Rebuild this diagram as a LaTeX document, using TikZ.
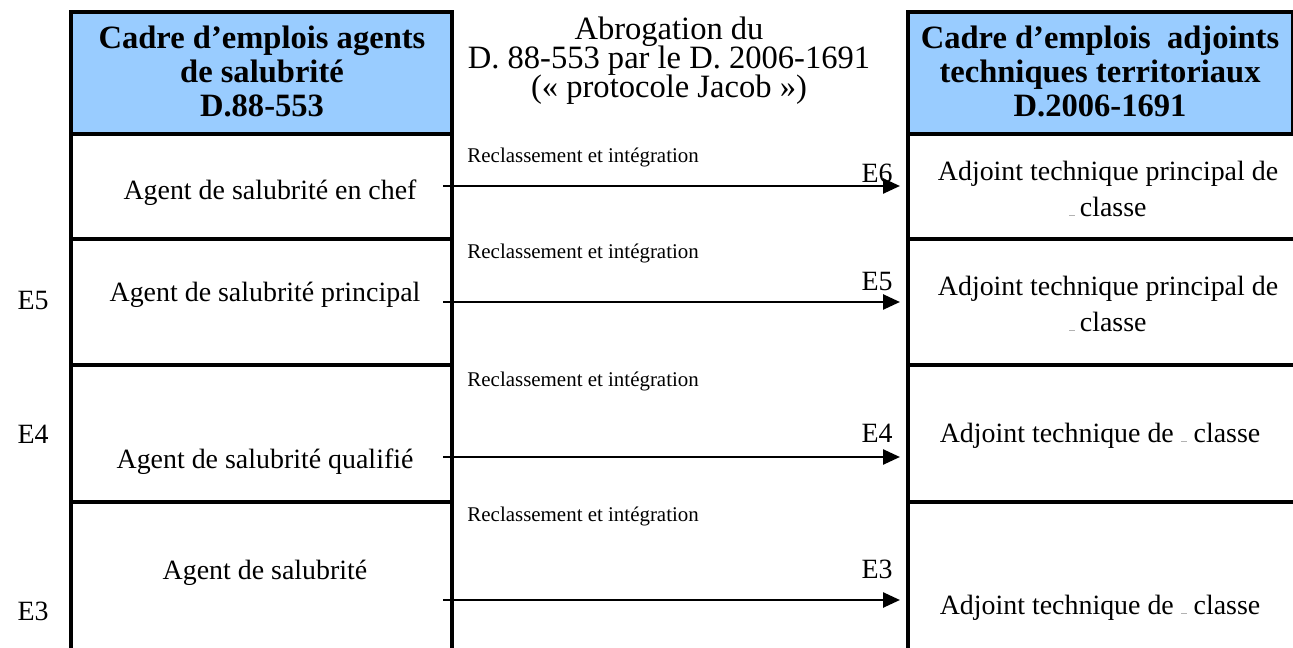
\documentclass[tikz,border=0pt]{standalone}
\usepackage{fontspec}
\setmainfont{Liberation Serif}
\usetikzlibrary{arrows.meta}

\definecolor{headblue}{RGB}{153,204,255}
\newcommand\rangmark{\textcolor{black!30}{\rule[0.3pt]{2.5pt}{0.4pt}}}

\tikzset{
  rule/.style={line width=1.35pt},
  headcell/.style={fill=headblue, draw, rule},
  headtext/.style={font=\fontsize{14}{14.6}\selectfont\bfseries, align=center, inner sep=0pt},
  midtext/.style={font={\fontsize{14}{12.5}\selectfont\lineskiplimit=-10pt}, align=center, inner sep=0pt},
  grade/.style={font=\fontsize{12}{15.5}\selectfont, align=center, inner sep=0pt},
  reclass/.style={font=\fontsize{9}{10}\selectfont, anchor=west, inner sep=0pt},
  elabel/.style={font=\fontsize{12}{14}\selectfont, inner sep=0pt},
  move/.style={line width=1.2pt, -{Triangle[length=7.3pt,width=6.4pt]}}
}

\begin{document}
\begin{tikzpicture}[x=0.43pt, y=-0.43pt]
\useasboundingbox (0,0) rectangle (1293,648);

% table frames
\filldraw[headcell] (71,12) rectangle (452,134);
\filldraw[headcell] (908,12) rectangle (1293,134);
\draw[rule] (71,134) -- (71,648) (452,134) -- (452,648);
\draw[rule] (908,134) -- (908,648);
\foreach \y in {239,365,502}{
  \draw[rule] (71,\y) -- (452,\y);
  \draw[rule] (908,\y) -- (1293,\y);
}

% headers
\node[headtext] (oldhead) at (262,71) {Cadre d’emplois agents\\de salubrité\\D.88-553};
\node[midtext] (abrog) at (669,61) {Abrogation du\\D. 88-553 par le D. 2006-1691\\(« protocole Jacob »)};
\node[headtext] (newhead) at (1100,71) {Cadre d’emplois~ adjoints\\techniques territoriaux\\D.2006-1691};

% old grades
\node[grade] (chef) at (270,193) {Agent de salubrité en chef};
\node[grade] (princ) at (265,295) {Agent de salubrité principal};
\node[grade] (qualif) at (265,462) {Agent de salubrité qualifié};
\node[grade] (agent) at (265,573) {Agent de salubrité};

% new grades
\node[grade] (atp1) at (1108,189) {Adjoint technique principal de\\\rangmark\,classe};
\node[grade] (atp2) at (1108,304) {Adjoint technique principal de\\\rangmark\,classe};
\node[grade] (at1) at (1100,436) {Adjoint technique de \rangmark\ classe};
\node[grade] (at2) at (1100,608) {Adjoint technique de \rangmark\ classe};

% echelles, left side
\node[elabel] (e5l) at (33,301) {E5};
\node[elabel] (e4l) at (33,434) {E4};
\node[elabel] (e3l) at (33,611) {E3};

% arrows
\coordinate (s1) at (443,186); \coordinate (t1) at (900,186);
\coordinate (s2) at (443,302); \coordinate (t2) at (900,302);
\coordinate (s3) at (443,457); \coordinate (t3) at (900,457);
\coordinate (s4) at (443,600); \coordinate (t4) at (900,600);
\foreach \i in {1,2,3,4}
  \draw[move] (s\i) -- (t\i);

\node[reclass] (r1) at (467,157) {Reclassement et intégration};
\node[reclass] (r2) at (467,253) {Reclassement et intégration};
\node[reclass] (r3) at (467,381) {Reclassement et intégration};
\node[reclass] (r4) at (467,516) {Reclassement et intégration};

\node[elabel, anchor=east] (e6r) at (893,173) {E6};
\node[elabel, anchor=east] (e5r) at (893,282) {E5};
\node[elabel, anchor=east] (e4r) at (893,433) {E4};
\node[elabel, anchor=east] (e3r) at (893,569) {E3};
\end{tikzpicture}
\end{document}
